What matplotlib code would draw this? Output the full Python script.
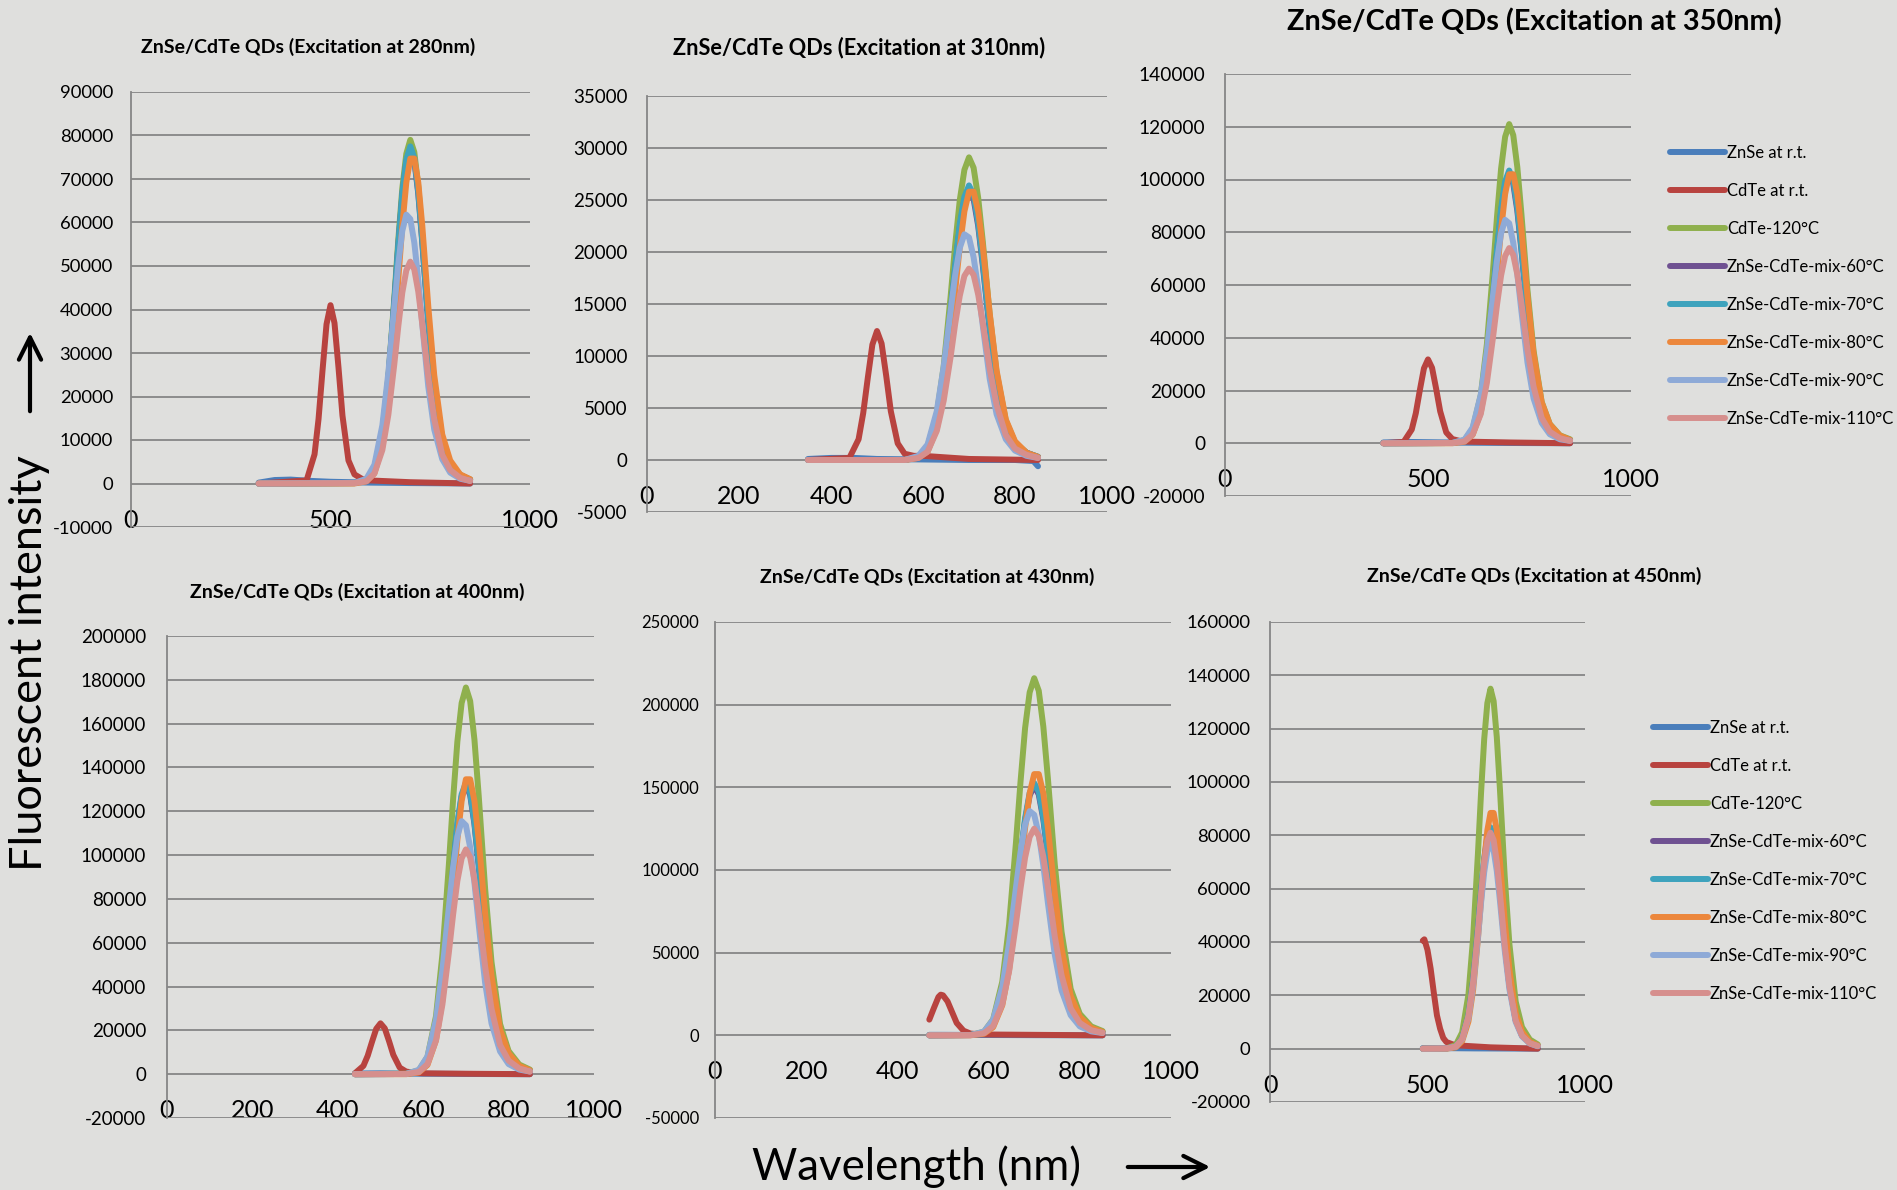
import matplotlib
matplotlib.use("Agg")
import matplotlib.pyplot as plt

plt.rcParams['font.family'] = ['Lato', 'DejaVu Sans']
plt.rcParams['axes.unicode_minus'] = False

series_names = ["ZnSe at r.t.", "CdTe at r.t.", "CdTe-120°C", "ZnSe-CdTe-mix-60°C",
                "ZnSe-CdTe-mix-70°C", "ZnSe-CdTe-mix-80°C", "ZnSe-CdTe-mix-90°C",
                "ZnSe-CdTe-mix-110°C"]
colors = ['#4a7ebb', '#b8433f', '#8fb04d', '#6f5191', '#3ea3bd', '#ec873c', '#8eaad7', '#d68f8d']

# intensities below are in thousands (x1000)

# ---- excitation 280 nm
wl_main_280 = [320, 560, 590, 610, 630, 645, 660, 670, 680, 690, 700, 710, 720, 730, 745, 760, 780, 800, 825, 850]
cdte120_280 = [0, 0.1, 0.8, 3.6, 11.9, 24.5, 42.7, 56.1, 67.9, 75.8, 79.0, 76.2, 68.3, 56.9, 37.9, 22.9, 10.3, 4.7, 2.0, 0.9]
mix60_280 = [0, 0.1, 0.8, 3.5, 11.6, 23.9, 41.6, 54.7, 66.2, 73.9, 77.0, 74.3, 66.6, 55.4, 37.0, 22.3, 10.0, 4.6, 1.9, 0.9]
mix70_280 = [0, 0.1, 0.8, 3.5, 11.6, 24.0, 41.9, 55.0, 66.7, 74.4, 77.5, 74.8, 67.0, 55.8, 37.2, 22.5, 10.1, 4.7, 1.9, 0.9]
mix80_280 = [0, 0.0, 0.5, 2.3, 8.6, 18.8, 34.6, 47.0, 59.3, 69.2, 74.7, 74.7, 69.2, 59.3, 40.8, 24.9, 11.3, 5.3, 2.1, 1.0]
mix90_280 = [0, 0.1, 1.1, 4.3, 13.4, 25.5, 40.7, 50.5, 58.1, 61.8, 60.8, 55.4, 46.8, 36.6, 22.3, 12.4, 5.6, 2.5, 1.1, 0.6]
mix110_280 = [0, 0.1, 0.5, 2.3, 7.7, 15.8, 27.5, 36.2, 43.9, 49.0, 51.0, 49.2, 44.1, 36.7, 24.5, 14.8, 6.6, 3.1, 1.3, 0.6]
wl_cdte_280 = [320, 440, 460, 470, 480, 490, 500, 510, 520, 530, 545, 560, 580, 600, 700, 850]
cdte_280 = [0, 0.7, 6.7, 14.8, 26.0, 36.6, 41.0, 36.9, 26.7, 15.6, 5.3, 2.1, 1.0, 0.7, 0.3, 0]
wl_znse_280 = [320, 360, 400, 450, 500, 600, 700, 850]
znse_280 = [0.2, 0.8, 0.9, 0.6, 0.4, 0.2, 0.1, 0]

# ---- excitation 310 nm
wl_main_310 = [350, 560, 590, 610, 630, 645, 660, 670, 680, 690, 700, 710, 720, 730, 745, 760, 780, 800, 825, 850]
cdte120_310 = [0, 0, 0.3, 1.3, 4.4, 9.0, 15.7, 20.7, 25.0, 27.9, 29.1, 28.1, 25.2, 21.0, 14.0, 8.4, 3.8, 1.7, 0.7, 0.3]
mix60_310 = [0, 0, 0.3, 1.2, 3.9, 8.1, 14.0, 18.5, 22.4, 25.0, 26.0, 25.1, 22.5, 18.7, 12.5, 7.5, 3.4, 1.6, 0.7, 0.3]
mix70_310 = [0, 0, 0.3, 1.2, 4.0, 8.2, 14.3, 18.7, 22.7, 25.3, 26.4, 25.5, 22.8, 19.0, 12.7, 7.7, 3.4, 1.6, 0.7, 0.3]
mix80_310 = [0, 0, 0.2, 0.8, 3.0, 6.5, 12.0, 16.3, 20.5, 23.9, 25.8, 25.8, 23.9, 20.5, 14.1, 8.6, 3.9, 1.8, 0.7, 0.3]
mix90_310 = [0, 0, 0.4, 1.5, 4.7, 9.0, 14.3, 17.8, 20.4, 21.7, 21.4, 19.5, 16.5, 12.9, 7.8, 4.4, 2.0, 0.9, 0.4, 0.2]
mix110_310 = [0, 0, 0.2, 0.8, 2.8, 5.7, 9.9, 13.1, 15.8, 17.7, 18.4, 17.8, 15.9, 13.2, 8.8, 5.3, 2.4, 1.1, 0.5, 0.2]
wl_cdte_310 = [350, 440, 460, 470, 480, 490, 500, 510, 520, 530, 545, 560, 580, 600, 700, 850]
cdte_310 = [0, 0.2, 2.0, 4.5, 7.9, 11.1, 12.4, 11.2, 8.1, 4.7, 1.6, 0.6, 0.4, 0.4, 0.1, 0]
wl_znse_310 = [350, 400, 450, 500, 600, 700, 800, 840, 850]
znse_310 = [0.1, 0.2, 0.2, 0.1, 0.05, 0, 0, -0.1, -0.6]

# ---- excitation 350 nm
wl_main_350 = [390, 560, 590, 610, 630, 645, 660, 670, 680, 690, 700, 710, 720, 730, 745, 760, 780, 800, 825, 850]
cdte120_350 = [0, 0.1, 1.2, 5.4, 18.2, 37.5, 65.3, 85.9, 104.1, 116.2, 121.0, 116.8, 104.7, 87.1, 58.1, 35.1, 15.7, 7.3, 3.0, 1.5]
mix60_350 = [0, 0.1, 1.0, 4.6, 15.3, 31.6, 55.1, 72.4, 87.7, 97.9, 102.0, 98.4, 88.2, 73.4, 49.0, 29.6, 13.3, 6.1, 2.6, 1.2]
mix70_350 = [0, 0.1, 1.0, 4.7, 15.5, 32.1, 55.8, 73.4, 88.9, 99.3, 103.4, 99.8, 89.4, 74.4, 49.6, 30.0, 13.4, 6.2, 2.6, 1.2]
mix80_350 = [0, 0, 0.6, 3.2, 11.7, 25.6, 47.2, 64.2, 81.0, 94.5, 102.0, 102.0, 94.5, 81.0, 55.6, 34.0, 15.5, 7.2, 2.9, 1.3]
mix90_350 = [0, 0.1, 1.4, 6.0, 18.4, 34.9, 55.8, 69.3, 79.6, 84.7, 83.4, 76.0, 64.2, 50.2, 30.6, 17.0, 7.7, 3.4, 1.5, 0.9]
mix110_350 = [0, 0.1, 0.7, 3.3, 11.1, 22.9, 40.0, 52.5, 63.6, 71.0, 74.0, 71.4, 64.0, 53.3, 35.5, 21.5, 9.6, 4.4, 1.9, 0.9]
wl_cdte_350 = [390, 440, 460, 470, 480, 490, 500, 510, 520, 530, 545, 560, 580, 600, 700, 850]
cdte_350 = [0, 0.5, 5.2, 11.4, 20.2, 28.4, 31.8, 28.6, 20.7, 12.1, 4.1, 1.6, 0.8, 0.6, 0.3, 0]
wl_znse_350 = [390, 450, 500, 600, 700, 850]
znse_350 = [0.3, 0.5, 0.4, 0.2, 0.1, 0]

# ---- excitation 400 nm
wl_main_400 = [440, 560, 590, 610, 630, 645, 660, 670, 680, 690, 700, 710, 720, 730, 745, 760, 780, 800, 825, 850]
cdte120_400 = [0, 0.2, 1.8, 7.9, 26.5, 54.7, 95.3, 125.3, 151.8, 169.4, 176.5, 170.3, 152.7, 127.1, 84.7, 51.2, 22.9, 10.6, 4.4, 2.1]
mix60_400 = [0, 0.1, 1.3, 5.9, 19.8, 40.9, 71.3, 93.7, 113.5, 126.7, 132.0, 127.4, 114.2, 95.0, 63.4, 38.3, 17.2, 7.9, 3.3, 1.6]
mix70_400 = [0, 0.1, 1.3, 6.0, 20.0, 41.2, 71.8, 94.4, 114.4, 127.7, 133.0, 128.3, 115.0, 95.8, 63.8, 38.6, 17.3, 8.0, 3.3, 1.6]
mix80_400 = [0, 0, 0.8, 4.2, 15.5, 33.9, 62.3, 84.7, 106.9, 124.7, 134.6, 134.6, 124.7, 106.9, 73.4, 44.9, 20.4, 9.5, 3.8, 1.8]
mix90_400 = [0, 0.1, 2.0, 8.1, 25.0, 47.6, 76.1, 94.4, 108.5, 115.5, 113.6, 103.5, 87.4, 68.3, 41.7, 23.2, 10.4, 4.6, 2.1, 1.2]
mix110_400 = [0, 0.1, 1.0, 4.6, 15.4, 31.8, 55.4, 72.8, 88.2, 98.5, 102.6, 99.0, 88.7, 73.9, 49.2, 29.8, 13.3, 6.2, 2.6, 1.2]
wl_cdte_400 = [440, 460, 470, 480, 490, 500, 510, 520, 530, 545, 560, 580, 600, 700, 850]
cdte_400 = [0.4, 3.8, 8.4, 14.7, 20.7, 23.2, 20.9, 15.1, 8.8, 3.0, 1.2, 0.6, 0.4, 0.2, 0]
wl_znse_400 = [440, 500, 600, 700, 850]
znse_400 = [0.3, 0.4, 0.2, 0.1, 0]

# ---- excitation 430 nm
wl_main_430 = [470, 560, 590, 610, 630, 645, 660, 670, 680, 690, 700, 710, 720, 730, 745, 760, 780, 800, 825, 850]
cdte120_430 = [0, 0.2, 2.2, 9.7, 32.4, 67.0, 116.6, 153.4, 185.8, 207.4, 216.0, 208.4, 186.8, 155.5, 103.7, 62.6, 28.1, 13.0, 5.4, 2.6]
mix60_430 = [0, 0.2, 1.5, 6.8, 22.7, 46.8, 81.5, 107.2, 129.9, 145.0, 151.0, 145.7, 130.6, 108.7, 72.5, 43.8, 19.6, 9.1, 3.8, 1.8]
mix70_430 = [0, 0.2, 1.5, 6.9, 22.9, 47.3, 82.4, 108.3, 131.2, 146.5, 152.6, 147.3, 132.0, 109.9, 73.2, 44.3, 19.8, 9.2, 3.8, 1.8]
mix80_430 = [0, 0, 1.0, 4.9, 18.2, 39.7, 73.1, 99.4, 125.4, 146.4, 158.0, 158.0, 146.4, 125.4, 86.2, 52.7, 23.9, 11.2, 4.5, 2.1]
mix90_430 = [0, 0.1, 2.3, 9.5, 29.4, 55.9, 89.4, 110.8, 127.4, 135.6, 133.4, 121.6, 102.7, 80.2, 49.0, 27.2, 12.2, 5.4, 2.4, 1.4]
mix110_430 = [0, 0.1, 1.3, 5.6, 18.8, 38.8, 67.5, 88.8, 107.5, 120.0, 125.0, 120.6, 108.1, 90.0, 60.0, 36.3, 16.3, 7.5, 3.1, 1.5]
wl_cdte_430 = [470, 480, 490, 495, 500, 510, 520, 530, 545, 560, 580, 600, 700, 850]
cdte_430 = [9.5, 16.5, 23.2, 24.6, 24.2, 20.5, 14.0, 7.5, 2.8, 1.1, 0.6, 0.5, 0.3, 0]
wl_znse_430 = [470, 500, 600, 700, 850]
znse_430 = [0.3, 0.3, 0.2, 0.1, 0]

# ---- excitation 450 nm
wl_main_450 = [485, 560, 590, 610, 630, 645, 660, 670, 680, 690, 700, 710, 720, 730, 745, 760, 780, 800, 825, 850]
cdte120_450 = [0, 0.1, 1.4, 6.1, 20.3, 41.9, 72.9, 95.9, 116.1, 129.6, 135.0, 130.3, 116.8, 97.2, 64.8, 39.2, 17.6, 8.1, 3.4, 1.6]
mix60_450 = [0, 0.1, 0.8, 3.7, 12.3, 25.4, 44.3, 58.2, 70.5, 78.7, 82.0, 79.1, 70.9, 59.0, 39.4, 23.8, 10.7, 4.9, 2.1, 1.0]
mix70_450 = [0, 0.1, 0.8, 3.7, 12.5, 25.7, 44.8, 58.9, 71.4, 79.7, 83.0, 80.1, 71.8, 59.8, 39.8, 24.1, 10.8, 5.0, 2.1, 1.0]
mix80_450 = [0, 0, 0.5, 2.8, 10.2, 22.2, 40.9, 55.6, 70.2, 81.9, 88.4, 88.4, 81.9, 70.2, 48.2, 29.5, 13.4, 6.3, 2.5, 1.2]
mix90_450 = [0, 0.1, 0.8, 3.5, 11.6, 23.9, 41.6, 54.7, 66.2, 73.9, 77.0, 74.3, 66.6, 55.4, 37.0, 22.3, 10.0, 4.6, 1.9, 0.9]
mix110_450 = [0, 0.1, 0.8, 3.6, 12.2, 25.1, 43.7, 57.5, 69.7, 77.8, 81.0, 78.2, 70.1, 58.3, 38.9, 23.5, 10.5, 4.9, 2.0, 1.0]
wl_cdte_450 = [485, 490, 500, 510, 520, 530, 540, 550, 560, 580, 600, 700, 850]
cdte_450 = [40.5, 41.0, 37.0, 30.0, 21.0, 12.5, 7.5, 4.0, 2.5, 1.6, 1.2, 0.5, 0]
wl_znse_450 = [485, 550, 650, 750, 850]
znse_450 = [0.2, 0.2, 0.1, 0.05, 0]

# axis settings per panel
titles = ["ZnSe/CdTe QDs (Excitation at 280nm)", "ZnSe/CdTe QDs (Excitation at 310nm)",
          "ZnSe/CdTe QDs (Excitation at 350nm)", "ZnSe/CdTe QDs (Excitation at 400nm)",
          "ZnSe/CdTe QDs (Excitation at 430nm)", "ZnSe/CdTe QDs (Excitation at 450nm)"]
y_limits = [(-10000, 90000, 10000), (-5000, 35000, 5000), (-20000, 140000, 20000),
            (-20000, 200000, 20000), (-50000, 250000, 50000), (-20000, 160000, 20000)]
x_ticks = [[0, 500, 1000], [0, 200, 400, 600, 800, 1000], [0, 500, 1000],
           [0, 200, 400, 600, 800, 1000], [0, 200, 400, 600, 800, 1000], [0, 500, 1000]]

W, H = 1897, 1190
# layout in pixels: axes (left, top, right, bottom), title centre, title size, ytick size, ytick pad
layout = [
    ((131, 92, 530, 527), (308, 47), 14, 13.3, 13),
    ((647, 96, 1107, 512), (859, 48), 15.7, 13.5, 14),
    ((1225, 74, 1631, 496), (1534, 22), 20.8, 13.8, 14),
    ((167, 636, 594, 1118), (357, 592), 14, 13.5, 15),
    ((715, 622, 1171, 1118), (927, 577), 14, 12, 11.5),
    ((1270, 622, 1585, 1102), (1534, 576), 14, 13.3, 14),
]

data = [
    (wl_znse_280, znse_280, wl_cdte_280, cdte_280, wl_main_280,
     [cdte120_280, mix60_280, mix70_280, mix80_280, mix90_280, mix110_280]),
    (wl_znse_310, znse_310, wl_cdte_310, cdte_310, wl_main_310,
     [cdte120_310, mix60_310, mix70_310, mix80_310, mix90_310, mix110_310]),
    (wl_znse_350, znse_350, wl_cdte_350, cdte_350, wl_main_350,
     [cdte120_350, mix60_350, mix70_350, mix80_350, mix90_350, mix110_350]),
    (wl_znse_400, znse_400, wl_cdte_400, cdte_400, wl_main_400,
     [cdte120_400, mix60_400, mix70_400, mix80_400, mix90_400, mix110_400]),
    (wl_znse_430, znse_430, wl_cdte_430, cdte_430, wl_main_430,
     [cdte120_430, mix60_430, mix70_430, mix80_430, mix90_430, mix110_430]),
    (wl_znse_450, znse_450, wl_cdte_450, cdte_450, wl_main_450,
     [cdte120_450, mix60_450, mix70_450, mix80_450, mix90_450, mix110_450]),
]

grid_col = '#868686'
lw = 4.3
fig = plt.figure(figsize=(W / 100, H / 100), dpi=100, facecolor='#dfdfdd')

axes = []
for i in range(6):
    (l, t, r, b), (tx, ty), tsize, ysize, ypad = layout[i]
    ax = fig.add_axes([l / W, 1 - b / H, (r - l) / W, (b - t) / H])
    ax.patch.set_alpha(0)
    wl_z, zn, wl_c, cd, wl_m, mains = data[i]
    lines = []
    lines += ax.plot(wl_z, [v * 1000 for v in zn], color=colors[0], lw=lw, solid_capstyle='round')
    lines += ax.plot(wl_c, [v * 1000 for v in cd], color=colors[1], lw=lw, solid_capstyle='round')
    for k, s in enumerate(mains):
        lines += ax.plot(wl_m, [v * 1000 for v in s], color=colors[k + 2], lw=lw,
                         solid_capstyle='round')

    y0, y1, step = y_limits[i]
    ax.set_ylim(y0, y1)
    ax.set_yticks(range(y0, y1 + 1, step))
    ax.set_xlim(0, 1000)
    ax.set_xticks(x_ticks[i])
    ax.yaxis.grid(True, color=grid_col, lw=1.3)
    ax.set_axisbelow(True)
    # horizontal axis crosses at 0, as in Excel; its labels hang just below it
    ax.spines['bottom'].set_position(('data', 0))
    for side in ['top', 'right', 'bottom']:
        ax.spines[side].set_visible(False)
    ax.spines['left'].set_color(grid_col)
    ax.spines['left'].set_linewidth(1.3)
    ax.tick_params(axis='y', length=0, pad=ypad, labelsize=ysize)
    ax.tick_params(axis='x', length=0, pad=18, labelsize=18)

    fig.text(tx / W, 1 - ty / H, titles[i], ha='center', va='center',
             fontsize=tsize, fontweight='bold')
    axes.append((ax, lines))

# legends next to the 350 nm and 450 nm panels
for idx, (lx, ly) in [(2, (1662, 137)), (5, (1645, 712))]:
    ax, lines = axes[idx]
    ax.legend(lines, series_names, loc='upper left', bbox_to_anchor=(lx / W, 1 - ly / H),
              bbox_transform=fig.transFigure, frameon=False, borderpad=0,
              handlelength=3.3, handletextpad=0.1, labelspacing=1.32, fontsize=12)

fig.text(30 / W, 1 - 663 / H, 'Fluorescent intensity', rotation=90, ha='center',
         va='center', fontsize=32.5)
fig.text(917 / W, 1 - 1167 / H, 'Wavelength (nm)', ha='center', va='center', fontsize=31.5)

ax0 = axes[0][0]
ax0.annotate('', xy=(30 / W, 1 - 330 / H), xytext=(30 / W, 1 - 414 / H),
             xycoords='figure fraction', textcoords='figure fraction',
             arrowprops=dict(arrowstyle='->', lw=3, color='black', mutation_scale=40))
ax0.annotate('', xy=(1213 / W, 1 - 1167 / H), xytext=(1125 / W, 1 - 1167 / H),
             xycoords='figure fraction', textcoords='figure fraction',
             arrowprops=dict(arrowstyle='->', lw=3, color='black', mutation_scale=40))

fig.savefig('out.png', dpi=100, facecolor=fig.get_facecolor())
